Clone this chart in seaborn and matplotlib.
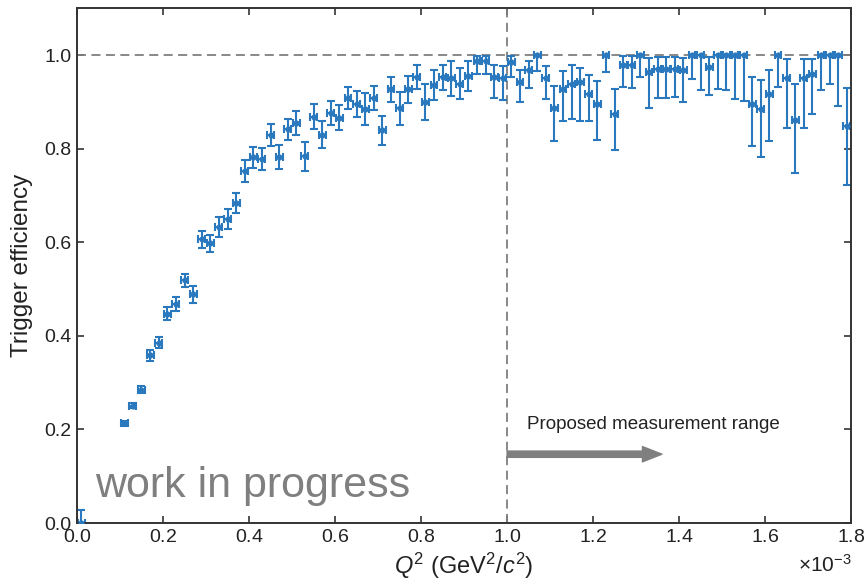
import numpy as np
import pandas as pd
import matplotlib
matplotlib.use("Agg")
import matplotlib.pyplot as plt
import seaborn as sns

# Q^2 bin centres in units of 1e-3 GeV^2/c^2
q2 = [0.01,
      0.11, 0.13, 0.15, 0.17, 0.19, 0.21, 0.23, 0.25, 0.27, 0.29,
      0.31, 0.33, 0.35, 0.37, 0.39, 0.41, 0.43, 0.45, 0.47, 0.49,
      0.51, 0.53, 0.55, 0.57, 0.59, 0.61, 0.63, 0.65, 0.67, 0.69,
      0.71, 0.73, 0.75, 0.77, 0.79, 0.81, 0.83, 0.85, 0.87, 0.89,
      0.91, 0.93, 0.95, 0.97, 0.99, 1.01, 1.03, 1.05, 1.07, 1.09,
      1.11, 1.13, 1.15, 1.17, 1.19, 1.21, 1.23, 1.25, 1.27, 1.29,
      1.31, 1.33, 1.35, 1.37, 1.39, 1.41, 1.43, 1.45, 1.47, 1.49,
      1.51, 1.53, 1.55, 1.57, 1.59, 1.61, 1.63, 1.65, 1.67, 1.69,
      1.71, 1.73, 1.75, 1.77, 1.79]

eff = [0.0,
       0.213, 0.251, 0.285, 0.358, 0.385, 0.447, 0.467, 0.519, 0.489, 0.606,
       0.598, 0.633, 0.649, 0.684, 0.752, 0.781, 0.778, 0.829, 0.782, 0.841,
       0.855, 0.784, 0.868, 0.830, 0.876, 0.866, 0.908, 0.895, 0.884, 0.908,
       0.839, 0.927, 0.886, 0.927, 0.953, 0.900, 0.935, 0.952, 0.950, 0.939,
       0.955, 0.987, 0.988, 0.952, 0.950, 0.986, 0.942, 0.968, 1.000, 0.950,
       0.886, 0.927, 0.939, 0.943, 0.917, 0.895, 1.000, 0.874, 0.978, 0.978,
       1.000, 0.964, 0.971, 0.971, 0.971, 0.968, 1.000, 1.000, 0.974, 1.000,
       1.000, 1.000, 1.000, 0.896, 0.884, 0.916, 1.000, 0.950, 0.862, 0.950,
       0.960, 1.000, 1.000, 1.000, 0.849]

err_down = [0.0,
            0.005, 0.006, 0.008, 0.011, 0.012, 0.014, 0.015, 0.014, 0.018, 0.018,
            0.018, 0.021, 0.021, 0.021, 0.023, 0.022, 0.023, 0.023, 0.026, 0.023,
            0.025, 0.031, 0.027, 0.028, 0.026, 0.027, 0.024, 0.028, 0.034, 0.025,
            0.031, 0.027, 0.036, 0.029, 0.025, 0.038, 0.032, 0.026, 0.037, 0.033,
            0.032, 0.028, 0.028, 0.043, 0.047, 0.034, 0.042, 0.039, 0.034, 0.044,
            0.069, 0.068, 0.075, 0.085, 0.059, 0.077, 0.037, 0.076, 0.046, 0.048,
            0.048, 0.078, 0.063, 0.062, 0.061, 0.068, 0.052, 0.075, 0.059, 0.072,
            0.075, 0.093, 0.098, 0.091, 0.101, 0.099, 0.068, 0.107, 0.115, 0.107,
            0.086, 0.075, 0.061, 0.109, 0.126]

err_up = [0.028,
          0.005, 0.006, 0.008, 0.011, 0.012, 0.014, 0.015, 0.014, 0.018, 0.018,
          0.018, 0.021, 0.021, 0.021, 0.023, 0.022, 0.023, 0.023, 0.026, 0.023,
          0.025, 0.031, 0.027, 0.028, 0.026, 0.027, 0.024, 0.028, 0.034, 0.025,
          0.031, 0.027, 0.036, 0.029, 0.025, 0.038, 0.032, 0.026, 0.037, 0.033,
          0.032, 0.011, 0.010, 0.027, 0.027, 0.012, 0.026, 0.019, 0.000, 0.027,
          0.048, 0.039, 0.039, 0.030, 0.040, 0.050, 0.000, 0.054, 0.020, 0.020,
          0.000, 0.029, 0.025, 0.025, 0.025, 0.026, 0.000, 0.000, 0.022, 0.000,
          0.000, 0.000, 0.000, 0.056, 0.062, 0.053, 0.000, 0.041, 0.076, 0.041,
          0.032, 0.000, 0.000, 0.000, 0.081]

x_ticks = [0.0, 0.2, 0.4, 0.6, 0.8, 1.0, 1.2, 1.4, 1.6, 1.8]
y_ticks = [0.0, 0.2, 0.4, 0.6, 0.8, 1.0]

sns.set_theme(style="ticks")
plt.rcParams['font.family'] = ['Liberation Sans', 'DejaVu Sans']
plt.rcParams['mathtext.fontset'] = 'custom'
plt.rcParams['mathtext.rm'] = 'Liberation Sans'
plt.rcParams['mathtext.it'] = 'Liberation Sans:italic'

blue = '#2a78be'
grey = '#7f7f7f'
dark = '#333333'
txt = '#222222'

fig = plt.figure(figsize=(8.65, 5.86), dpi=100)
ax = fig.add_axes([0.089, 0.1075, 0.895, 0.8785])

df = pd.DataFrame({'q2': np.array(q2) * 1e-3, 'eff': eff})

ax.errorbar(df['q2'], df['eff'], yerr=[err_down, err_up], xerr=0.008e-3,
            fmt='none', ecolor=blue, elinewidth=1.5, capsize=2.6,
            capthick=1.5, zorder=2)
sns.scatterplot(data=df, x='q2', y='eff', ax=ax, color=blue, s=20,
                edgecolor=blue, linewidth=0, zorder=3, legend=False)

ax.axhline(1.0, color=grey, ls=(0, (5, 3)), lw=1.3, zorder=1)
ax.axvline(1.0e-3, color=grey, ls=(0, (5, 3)), lw=1.3, zorder=1)

ax.set_xlim(0, 1.8e-3)
ax.set_ylim(0, 1.1)
ax.set_xticks([t * 1e-3 for t in x_ticks])
ax.set_yticks(y_ticks)
ax.ticklabel_format(axis='x', style='sci', scilimits=(0, 0), useMathText=True)
ax.xaxis.get_offset_text().set_visible(False)

ax.tick_params(direction='in', top=True, right=True, length=5, width=1.2,
               color=dark, labelsize=14, labelcolor=txt, pad=4)
for s in ax.spines.values():
    s.set_color(dark)
    s.set_linewidth(1.4)

ax.set_xlabel(r'$Q^2$ (GeV$^2$/$c^2$)', fontsize=17, color=txt, labelpad=4)
ax.set_ylabel('Trigger efficiency', fontsize=17.5, color=txt, labelpad=8)
fig.text(0.984, 0.025, r'$\times10^{-3}$', fontsize=15, color=txt,
         ha='right', va='baseline')

ax.annotate('', xy=(1.36e-3, 0.147), xytext=(1.0e-3, 0.147),
            arrowprops=dict(width=4.5, headwidth=11, headlength=14,
                            color=grey, shrink=0))
ax.text(1.047e-3, 0.211, 'Proposed measurement range', fontsize=13.5,
        va='center', ha='left', color=txt)
ax.text(0.042e-3, 0.055, 'work in progress', fontsize=31, color=grey,
        va='baseline', ha='left')

fig.savefig('out.png', dpi=100)
